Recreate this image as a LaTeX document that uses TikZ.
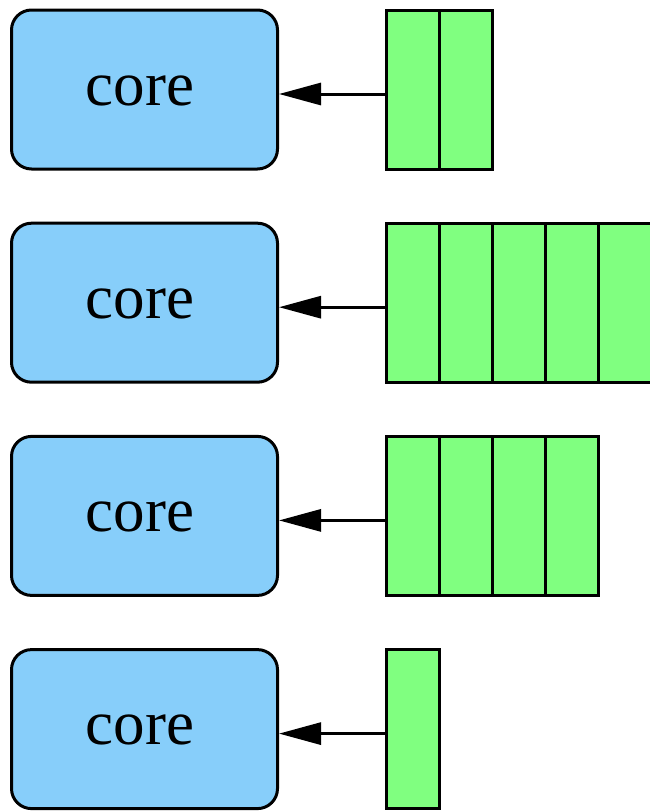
\documentclass[tikz,border=0pt]{standalone}
\usepackage{fontspec}
\setmainfont{Liberation Serif}
\usetikzlibrary{arrows.meta}
\definecolor{coreblue}{HTML}{87CEFA}
\definecolor{qgreen}{HTML}{80FF80}
\tikzset{
  corebox/.style={draw=black, fill=coreblue, line width=3pt, rounded corners=20pt,
    minimum width=266pt, minimum height=159pt, inner sep=0pt},
  coretext/.style={inner sep=0pt, font=\fontsize{63pt}{63pt}\selectfont},
  cell/.style={draw=black, fill=qgreen, line width=3pt, minimum width=53.2pt,
    minimum height=159pt, inner sep=0pt, anchor=west},
  feed/.style={line width=3pt, -{Triangle[length=42pt,width=22pt]}}
}
\begin{document}
\begin{tikzpicture}[x=1pt,y=-1pt]
\useasboundingbox (0,0) rectangle (650,811);
\foreach \r/\n in {1/2,2/5,3/4,4/1}{
  \pgfmathsetmacro{\cy}{89.5+213.2*(\r-1)}
  \node[corebox] (c\r) at (144.5,\cy) {};
  \node[coretext] (t\r) at (140,\cy+1) {core};
  \foreach \k in {1,...,\n}{
    \node[cell] (q\r c\k) at ({384.5+53.2*(\k-1)},\cy) {};
  }
  \draw[feed] ([yshift=-4.5pt]q\r c1.west) -- ([yshift=-4.5pt]c\r.east);
}
\end{tikzpicture}
\end{document}
